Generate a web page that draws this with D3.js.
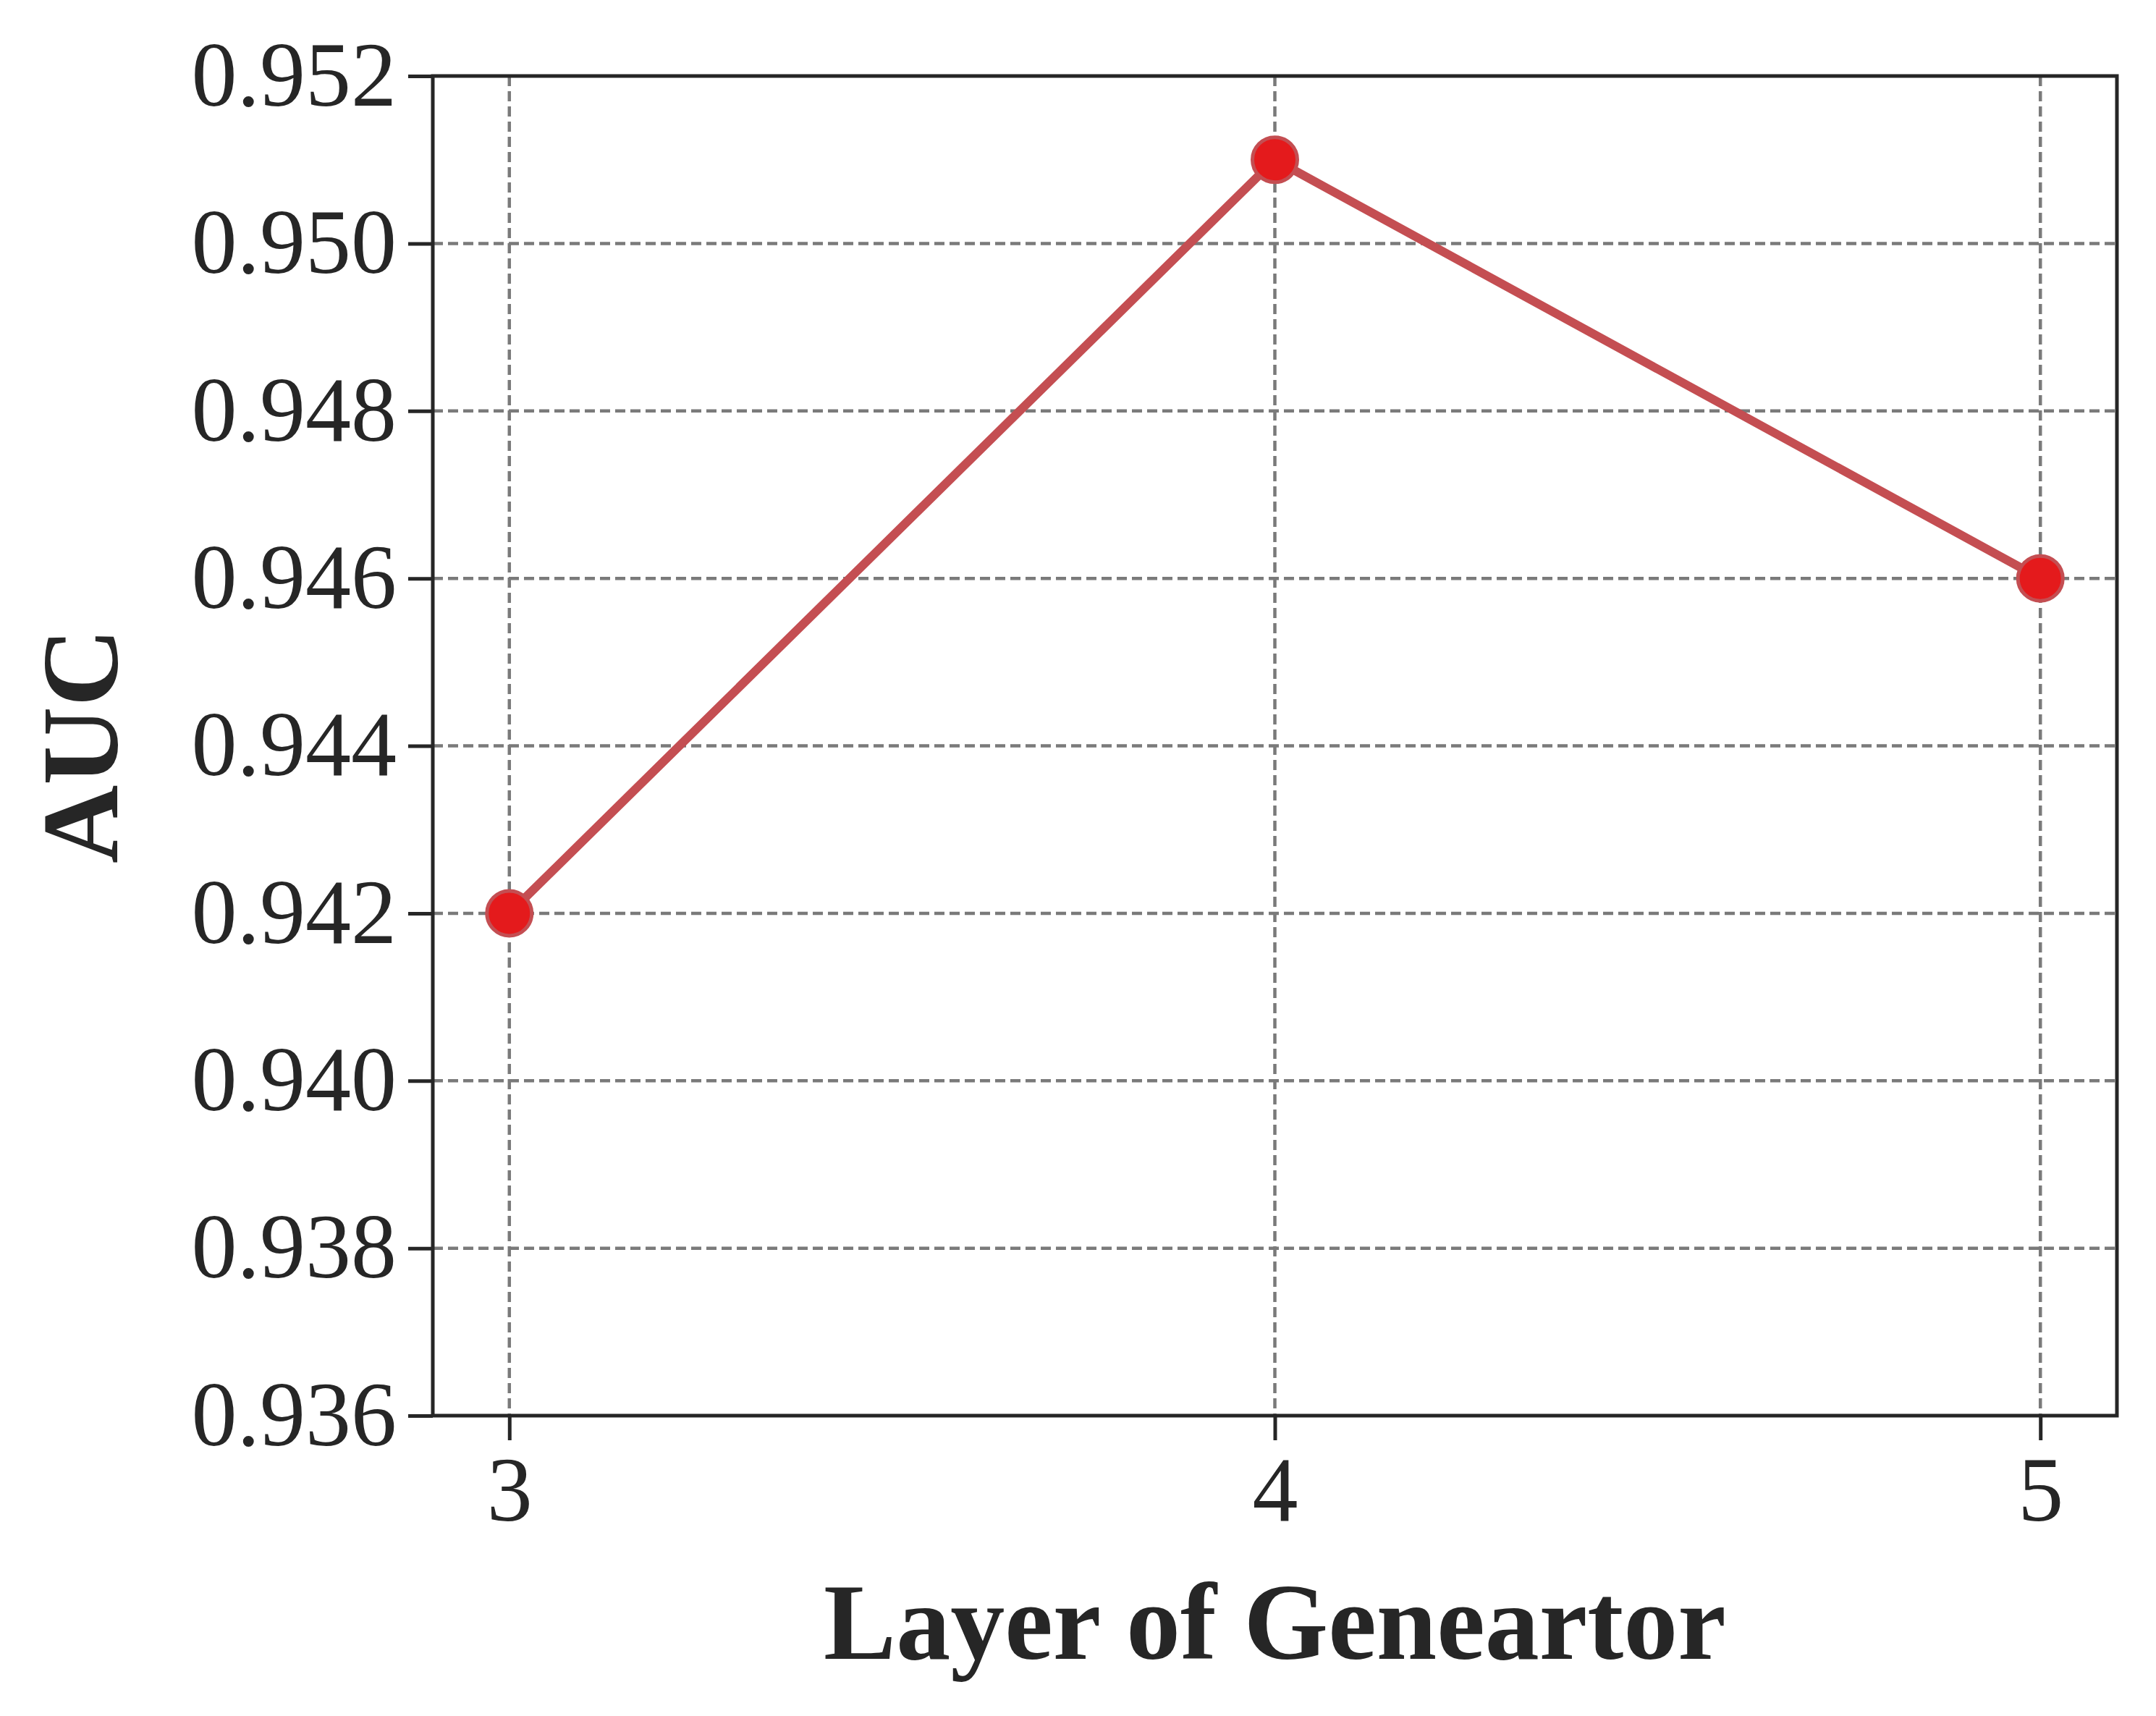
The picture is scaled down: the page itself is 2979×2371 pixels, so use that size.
<!DOCTYPE html>
<html><head><meta charset="utf-8">
<script src="https://cdn.jsdelivr.net/npm/d3@7"></script>
<style>body{margin:0;background:#fff}</style>
</head><body><div id="chart"></div>
<script>
const layers = [3, 4, 5];
const auc = [0.942, 0.951, 0.946];
const yTicks = [0.936, 0.938, 0.940, 0.942, 0.944, 0.946, 0.948, 0.950, 0.952];

const width = 2979, height = 2371;
const margin = { top: 105, right: 44, bottom: 410, left: 598 };
const w = width - margin.left - margin.right - 10;
const h = height - margin.top - margin.bottom - 5;
const font = '"Liberation Serif", "Times New Roman", Times, serif';
const ink = '#262626';

const svg = d3.select('#chart').append('svg').attr('width', width).attr('height', height);
const g = svg.append('g').attr('transform', `translate(${margin.left},${margin.top})`);

const x = d3.scaleLinear().domain([2.9, 5.1]).range([0, w]);
const y = d3.scaleLinear().domain([0.936, 0.952]).range([h, 0]);

// grid
g.append('g').selectAll('line').data(yTicks.slice(1, -1)).enter().append('line')
  .attr('x1', 0).attr('x2', w).attr('y1', d => y(d)).attr('y2', d => y(d))
  .attr('stroke', '#7a7a7a').attr('stroke-width', 4.5).attr('stroke-dasharray', '14,7');
g.append('g').selectAll('line').data(layers).enter().append('line')
  .attr('y1', 0).attr('y2', h).attr('x1', d => x(d)).attr('x2', d => x(d))
  .attr('stroke', '#7a7a7a').attr('stroke-width', 4.5).attr('stroke-dasharray', '14,7');

// axes
const xAxis = g.append('g').attr('transform', `translate(0,${h})`)
  .call(d3.axisBottom(x).tickValues(layers).tickFormat(d3.format('d')).tickSize(34).tickPadding(22));
const yAxis = g.append('g')
  .call(d3.axisLeft(y).tickValues(yTicks).tickFormat(d3.format('.3f')).tickSize(34).tickPadding(16));
[xAxis, yAxis].forEach(a => {
  a.select('.domain').remove();
  a.selectAll('line').attr('stroke', ink).attr('stroke-width', 5);
  a.selectAll('text').attr('fill', ink).style('font-family', font).style('font-size', '126px');
});

g.append('rect').attr('width', w).attr('height', h)
  .attr('fill', 'none').attr('stroke', ink).attr('stroke-width', 5);

// line + markers
g.append('path').datum(layers.map((l, i) => [l, auc[i]]))
  .attr('d', d3.line().x(d => x(d[0])).y(d => y(d[1])))
  .attr('fill', 'none').attr('stroke', '#c44e52').attr('stroke-width', 12);
g.append('g').selectAll('circle').data(layers.map((l, i) => [l, auc[i]])).enter().append('circle')
  .attr('cx', d => x(d[0])).attr('cy', d => y(d[1])).attr('r', 31)
  .attr('fill', '#e41a1c').attr('stroke', '#c44e52').attr('stroke-width', 5);

// labels
svg.append('text').attr('x', margin.left + w / 2).attr('y', 2292)
  .attr('text-anchor', 'middle').attr('fill', ink).style('font-family', font)
  .style('font-size', '150px').style('font-weight', 'bold').text('Layer of Geneartor');
svg.append('text').attr('transform', `translate(162,${margin.top + h / 2}) rotate(-90)`)
  .attr('text-anchor', 'middle').attr('fill', ink).style('font-family', font)
  .style('font-size', '150px').style('font-weight', 'bold').text('AUC');
</script></body></html>
